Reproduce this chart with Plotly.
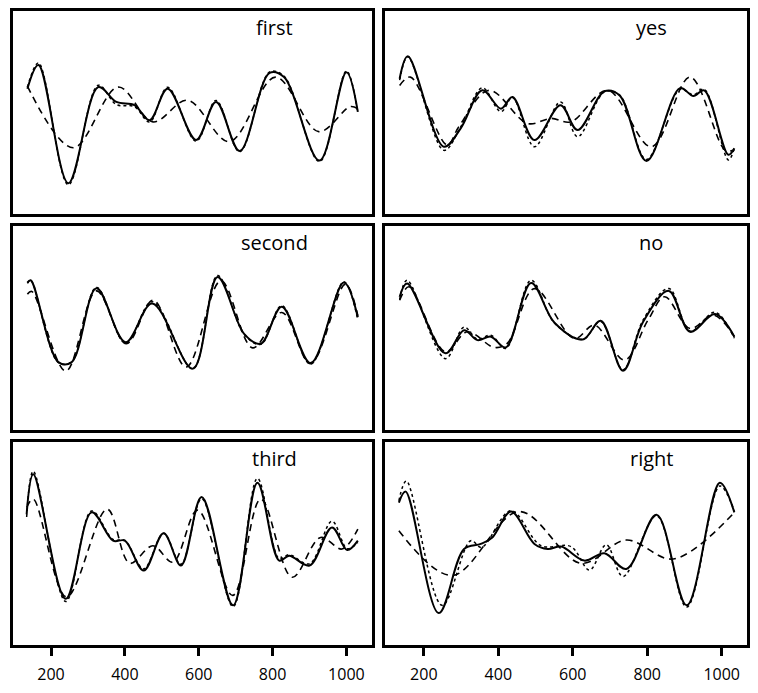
import plotly.graph_objects as go

# ---- data (arbitrary amplitude units 0-100) ----
panel_names = ["first", "yes", "second", "no", "third", "right"]
tick_values = [200, 400, 600, 800, 1000]
tick_labels = ["200", "400", "600", "800", "1000"]

first_solid_x = [136, 166, 247, 328, 377, 426, 467, 516, 593, 647, 711, 792, 831, 927, 1000, 1031]
first_solid_y = [61.8, 73.5, 15.4, 62.6, 55.3, 53.7, 46.3, 61.8, 36.6, 55.3, 31.2, 69.6, 67.5, 26.5, 69.9, 50.4]
first_dot_y = [62.5, 74.5, 14.6, 63.5, 54.0, 53.0, 45.5, 62.5, 36.0, 56.0, 30.8, 70.0, 68.0, 26.0, 70.5, 50.0]
first_dash_x = [136, 260, 382, 476, 570, 683, 808, 925, 1010, 1031]
first_dash_y = [63.1, 32.8, 62.6, 45.5, 56.1, 35.8, 67.5, 40.7, 53.0, 52.0]

yes_solid_x = [135, 157, 254, 299, 357, 407, 438, 497, 567, 613, 685, 726, 798, 888, 924, 953, 1018, 1034]
yes_solid_y = [66.7, 77.7, 33.3, 42.3, 61.0, 52.0, 57.7, 36.6, 53.7, 41.5, 60.5, 58.5, 26.3, 62.1, 58.2, 61.0, 29.3, 32.5]
yes_dot_y = [66.0, 77.5, 31.5, 43.0, 62.2, 50.5, 57.5, 33.3, 55.3, 38.2, 60.2, 58.7, 27.0, 61.5, 58.8, 61.5, 26.8, 32.5]
yes_dash_x = [135, 164, 263, 294, 375, 479, 542, 595, 694, 811, 915, 1009, 1034]
yes_dash_y = [63.4, 67.5, 34.1, 43.1, 61.0, 44.7, 47.2, 45.5, 61.0, 33.3, 67.5, 31.7, 31.7]

second_solid_x = [136, 145, 220, 256, 323, 402, 474, 584, 651, 723, 768, 825, 903, 993, 1031]
second_solid_y = [72.4, 73.5, 33.3, 33.3, 69.6, 43.1, 62.1, 30.1, 75.1, 47.2, 42.3, 60.5, 32.8, 72.4, 55.3]
second_dot_y = [72.0, 73.5, 33.0, 33.5, 70.0, 42.5, 63.0, 30.0, 75.8, 47.0, 42.0, 61.0, 32.3, 72.8, 54.0]
second_dash_x = [136, 148, 240, 323, 404, 477, 566, 660, 746, 825, 903, 997, 1031]
second_dash_y = [66.7, 68.0, 28.9, 68.3, 42.3, 63.7, 30.9, 73.2, 40.3, 57.7, 32.5, 71.5, 56.1]

no_solid_x = [135, 155, 258, 308, 344, 380, 420, 488, 551, 627, 675, 735, 789, 858, 915, 982, 1034]
no_solid_y = [65.4, 71.9, 37.6, 49.0, 44.1, 45.8, 40.5, 72.2, 52.6, 44.4, 53.6, 29.1, 53.1, 68.3, 48.2, 56.9, 45.8]
no_dot_y = [64.0, 73.5, 35.0, 50.5, 44.5, 46.5, 40.0, 73.5, 52.5, 44.5, 53.3, 29.5, 54.0, 69.5, 48.5, 57.8, 45.0]
no_dash_x = [135, 160, 258, 317, 389, 424, 497, 604, 658, 739, 802, 847, 915, 978, 1034]
no_dash_y = [63.7, 70.3, 38.4, 48.2, 40.5, 42.5, 69.4, 44.9, 51.5, 34.3, 53.9, 65.4, 49.8, 56.4, 45.8]

third_solid_x = [134, 152, 240, 310, 368, 400, 451, 505, 552, 608, 693, 759, 818, 845, 900, 961, 1002, 1031]
third_solid_y = [64.4, 84.0, 22.8, 65.3, 51.4, 51.4, 36.7, 55.0, 39.2, 72.9, 19.6, 79.9, 41.6, 44.0, 39.2, 57.9, 46.8, 51.4]
third_dot_y = [63.0, 85.5, 21.5, 66.0, 52.0, 51.5, 37.5, 55.0, 39.8, 72.0, 19.0, 82.0, 42.5, 44.5, 40.0, 61.0, 47.5, 50.5]
third_dash_x = [134, 152, 242, 352, 413, 476, 530, 597, 692, 768, 853, 930, 988, 1031]
third_dash_y = [67.7, 71.8, 23.7, 66.9, 40.3, 48.9, 40.8, 66.4, 24.5, 71.8, 33.4, 53.0, 47.3, 57.1]

right_solid_x = [133, 151, 240, 308, 353, 384, 434, 497, 533, 569, 631, 685, 744, 825, 906, 995, 1034]
right_solid_y = [70.1, 75.5, 15.8, 47.3, 49.8, 53.0, 65.7, 49.8, 47.3, 48.5, 41.6, 45.2, 37.5, 64.1, 19.6, 79.9, 65.3]
right_dot_x = [133, 153, 249, 326, 355, 434, 515, 595, 645, 690, 735, 825, 906, 995, 1034]
right_dot_y = [71.0, 80.7, 19.6, 51.4, 48.1, 66.1, 48.9, 48.5, 37.0, 49.4, 33.8, 63.6, 18.8, 78.3, 66.1]
right_dash_x = [133, 276, 456, 622, 744, 870, 1034]
right_dash_y = [56.3, 34.3, 65.7, 40.3, 51.7, 42.4, 65.3]

series = {
    "first": (first_solid_x, first_solid_y, first_solid_x, first_dot_y, first_dash_x, first_dash_y),
    "yes": (yes_solid_x, yes_solid_y, yes_solid_x, yes_dot_y, yes_dash_x, yes_dash_y),
    "second": (second_solid_x, second_solid_y, second_solid_x, second_dot_y, second_dash_x, second_dash_y),
    "no": (no_solid_x, no_solid_y, no_solid_x, no_dot_y, no_dash_x, no_dash_y),
    "third": (third_solid_x, third_solid_y, third_solid_x, third_dot_y, third_dash_x, third_dash_y),
    "right": (right_solid_x, right_solid_y, right_dot_x, right_dot_y, right_dash_x, right_dash_y),
}

# ---- layout (page is 758x693; plotly div sits at an 8px body margin) ----
OFF = 8
W, H = 758 - 2 * OFF, 693 - 2 * OFF
col_px = [(13, 372), (386, 748)]
row_px = [(11, 216), (228, 433), (445, 650)]

fig = go.Figure()
layout = dict(
    width=W, height=H, margin=dict(l=0, r=0, t=0, b=0),
    paper_bgcolor="white", plot_bgcolor="white", showlegend=False,
    font=dict(family="Open Sans", color="black"),
)
annotations = []
for i, name in enumerate(panel_names):
    r, c = divmod(i, 2)
    ax_id = "" if i == 0 else str(i + 1)
    xa, ya = "x" + ax_id, "y" + ax_id
    x0, x1 = [v - OFF for v in col_px[c]]
    y0, y1 = [v - OFF for v in row_px[r]]
    bottom = r == 2
    layout["xaxis" + ax_id] = dict(
        domain=[x0 / W, x1 / W], range=[97, 1068],
        showgrid=False, zeroline=False, showline=True, mirror=True,
        linecolor="black", linewidth=2.5,
        tickmode="array", tickvals=tick_values, ticktext=tick_labels,
        ticks="outside" if bottom else "", ticklen=8, tickwidth=2.5, tickcolor="black",
        showticklabels=bottom, ticklabelstandoff=5,
        tickfont=dict(size=16, family="Open Sans", color="black"),
        anchor=ya,
    )
    layout["yaxis" + ax_id] = dict(
        domain=[1 - y1 / H, 1 - y0 / H], range=[0, 100],
        showgrid=False, zeroline=False, showline=True, mirror=True,
        linecolor="black", linewidth=2.5, showticklabels=False, ticks="",
        anchor=xa,
    )
    sx, sy, dx, dy, ex, ey = series[name]
    fig.add_trace(go.Scatter(x=dx, y=dy, mode="lines", xaxis=xa, yaxis=ya,
                             line=dict(color="black", width=1.5, dash="dot", shape="spline")))
    fig.add_trace(go.Scatter(x=ex, y=ey, mode="lines", xaxis=xa, yaxis=ya,
                             line=dict(color="black", width=1.6, dash="7px,5px", shape="spline")))
    fig.add_trace(go.Scatter(x=sx, y=sy, mode="lines", xaxis=xa, yaxis=ya,
                             line=dict(color="black", width=2, shape="spline")))
    annotations.append(dict(
        text=name, xref=xa + " domain", yref=ya + " domain",
        x=0.73 if c == 0 else 0.735, y=0.92,
        xanchor="center", yanchor="middle", showarrow=False,
        font=dict(size=20, family="Open Sans", color="black"),
    ))
layout["annotations"] = annotations
fig.update_layout(**layout)
fig.write_html("out.html")
